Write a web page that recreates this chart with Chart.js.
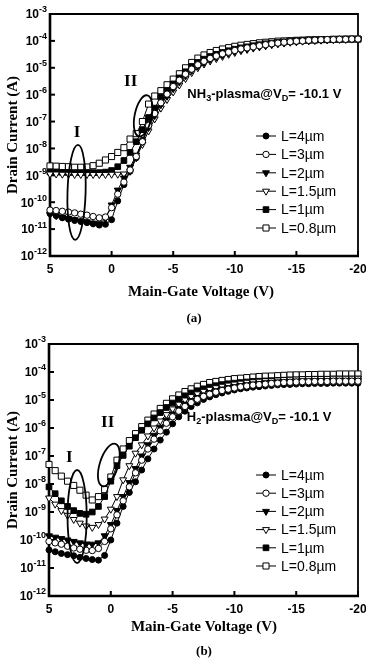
<!DOCTYPE html>
<html>
<head>
<meta charset="utf-8">
<script src="https://cdn.jsdelivr.net/npm/chart.js@4.4.1/dist/chart.umd.min.js"></script>
<style>
html, body { margin: 0; padding: 0; background: #fff; }
#wrap { position: relative; width: 366px; height: 659px; overflow: hidden; }
canvas { position: absolute; left: 0; }
#chartA { top: 0; }
#chartB { top: 330px; }
</style>
</head>
<body>
<div id="wrap">
  <canvas id="chartA" width="366" height="330"></canvas>
  <canvas id="chartB" width="366" height="329"></canvas>
</div>
<script>
// gate voltage sweep (V)
const voltages = [5, 4.5, 4, 3.5, 3, 2.5, 2, 1.5, 1, 0.5,
  0, -0.5, -1, -1.5, -2, -2.5, -3, -3.5, -4, -4.5,
  -5, -5.5, -6, -6.5, -7, -7.5, -8, -8.5, -9, -9.5,
  -10, -10.5, -11, -11.5, -12, -12.5, -13, -13.5, -14, -14.5,
  -15, -15.5, -16, -16.5, -17, -17.5, -18, -18.5, -19, -19.5, -20];

const xTicks = [5, 0, -5, -10, -15, -20];
const yTicks = [1e-12, 1e-11, 1e-10, 1e-9, 1e-8, 1e-7, 1e-6, 1e-5, 1e-4, 1e-3];
const yTickExponents = ['-12', '-11', '-10', '-9', '-8', '-7', '-6', '-5', '-4', '-3'];
const legendLabels = ['L=4\u00b5m', 'L=3\u00b5m', 'L=2\u00b5m', 'L=1.5\u00b5m', 'L=1\u00b5m', 'L=0.8\u00b5m'];

// (a) NH3 plasma, drain current (A)
const nh3_L4 = [3.8e-11, 3.16e-11, 2.63e-11, 2.34e-11, 2.09e-11, 1.91e-11, 1.74e-11, 1.58e-11, 1.41e-11, 1.51e-11,
  2.24e-11, 1.12e-10, 4.5e-10, 1.41e-9, 4.5e-9, 2.0e-8, 7.9e-8, 2.09e-7, 5.2e-7, 1.1e-6,
  2.09e-6, 3.6e-6, 6.0e-6, 9.1e-6, 1.32e-5, 1.78e-5, 2.29e-5, 2.82e-5, 3.4e-5, 3.9e-5,
  4.5e-5, 5.0e-5, 5.6e-5, 6.2e-5, 6.8e-5, 7.4e-5, 7.9e-5, 8.5e-5, 8.9e-5, 9.3e-5,
  9.8e-5, 1.0e-4, 1.05e-4, 1.07e-4, 1.1e-4, 1.12e-4, 1.12e-4, 1.15e-4, 1.15e-4, 1.17e-4, 1.17e-4];
const nh3_L3 = [5.1e-11, 4.9e-11, 4.6e-11, 4.3e-11, 4.0e-11, 3.6e-11, 3.3e-11, 2.95e-11, 2.63e-11, 2.82e-11,
  6.3e-11, 2.0e-10, 5.6e-10, 1.58e-9, 5.0e-9, 1.78e-8, 7.1e-8, 2.0e-7, 5.0e-7, 1.05e-6,
  2.0e-6, 3.47e-6, 5.8e-6, 8.9e-6, 1.29e-5, 1.74e-5, 2.24e-5, 2.75e-5, 3.3e-5, 3.8e-5,
  4.4e-5, 5.0e-5, 5.5e-5, 6.0e-5, 6.6e-5, 7.2e-5, 7.8e-5, 8.3e-5, 8.9e-5, 9.3e-5,
  9.8e-5, 1.0e-4, 1.05e-4, 1.07e-4, 1.1e-4, 1.12e-4, 1.12e-4, 1.15e-4, 1.15e-4, 1.17e-4, 1.17e-4];
const nh3_L2 = [3.55e-11, 3.16e-11, 2.82e-11, 2.51e-11, 2.24e-11, 2.0e-11, 1.86e-11, 1.66e-11, 1.58e-11, 2.51e-11,
  7.9e-11, 2.82e-10, 7.9e-10, 2.0e-9, 5.6e-9, 1.78e-8, 6.0e-8, 1.66e-7, 4.2e-7, 8.7e-7,
  1.66e-6, 2.95e-6, 5.0e-6, 7.9e-6, 1.17e-5, 1.58e-5, 2.04e-5, 2.51e-5, 3.0e-5, 3.55e-5,
  4.1e-5, 4.7e-5, 5.2e-5, 5.8e-5, 6.3e-5, 6.9e-5, 7.6e-5, 8.1e-5, 8.7e-5, 9.1e-5,
  9.5e-5, 1.0e-4, 1.02e-4, 1.05e-4, 1.07e-4, 1.1e-4, 1.12e-4, 1.15e-4, 1.15e-4, 1.17e-4, 1.17e-4];
const nh3_L15 = [1.12e-9, 1.12e-9, 1.1e-9, 1.1e-9, 1.07e-9, 1.07e-9, 1.07e-9, 1.07e-9, 1.07e-9, 1.07e-9,
  1.1e-9, 1.1e-9, 1.12e-9, 1.41e-9, 4.47e-9, 1.41e-8, 4.47e-8, 1.26e-7, 3.16e-7, 6.6e-7,
  1.26e-6, 2.29e-6, 3.98e-6, 6.6e-6, 1.0e-5, 1.38e-5, 1.78e-5, 2.19e-5, 2.63e-5, 3.16e-5,
  3.7e-5, 4.3e-5, 4.8e-5, 5.4e-5, 6.0e-5, 6.6e-5, 7.2e-5, 7.8e-5, 8.3e-5, 8.9e-5,
  9.3e-5, 9.8e-5, 1.02e-4, 1.05e-4, 1.07e-4, 1.1e-4, 1.12e-4, 1.15e-4, 1.15e-4, 1.17e-4, 1.17e-4];
const nh3_L1 = [1.32e-9, 1.32e-9, 1.29e-9, 1.26e-9, 1.26e-9, 1.26e-9, 1.26e-9, 1.26e-9, 1.26e-9, 1.32e-9,
  1.51e-9, 2.09e-9, 3.55e-9, 7.1e-9, 1.78e-8, 5.0e-8, 1.41e-7, 3.16e-7, 7.9e-7, 1.41e-6,
  2.51e-6, 4.2e-6, 7.1e-6, 1.12e-5, 1.58e-5, 2.09e-5, 2.63e-5, 3.16e-5, 3.7e-5, 4.3e-5,
  4.9e-5, 5.5e-5, 6.0e-5, 6.6e-5, 7.2e-5, 7.8e-5, 8.3e-5, 8.7e-5, 9.1e-5, 9.5e-5,
  1.0e-4, 1.02e-4, 1.05e-4, 1.07e-4, 1.1e-4, 1.12e-4, 1.12e-4, 1.15e-4, 1.15e-4, 1.17e-4, 1.17e-4];
const nh3_L08 = [2.24e-9, 2.19e-9, 2.14e-9, 2.09e-9, 2.0e-9, 2.0e-9, 2.04e-9, 2.29e-9, 2.82e-9, 3.72e-9,
  5.0e-9, 7.1e-9, 1.07e-8, 2.24e-8, 3.55e-8, 1.0e-7, 4.47e-7, 8.9e-7, 1.41e-6, 2.34e-6,
  3.8e-6, 6.0e-6, 1.0e-5, 1.58e-5, 2.29e-5, 3.0e-5, 3.7e-5, 4.4e-5, 5.0e-5, 5.6e-5,
  6.3e-5, 6.9e-5, 7.4e-5, 7.9e-5, 8.5e-5, 8.9e-5, 9.3e-5, 9.8e-5, 1.0e-4, 1.02e-4,
  1.05e-4, 1.07e-4, 1.1e-4, 1.1e-4, 1.12e-4, 1.12e-4, 1.15e-4, 1.15e-4, 1.17e-4, 1.17e-4, 1.17e-4];

// (b) H2 plasma, drain current (A)
const h2_L4 = [4.4e-11, 3.8e-11, 3.3e-11, 3.0e-11, 2.75e-11, 2.4e-11, 2.19e-11, 2.0e-11, 1.91e-11, 2.82e-11,
  1.0e-10, 4.0e-10, 1.58e-9, 5.0e-9, 1.2e-8, 3.16e-8, 7.9e-8, 1.78e-7, 3.7e-7, 7.1e-7,
  1.41e-6, 2.51e-6, 4.0e-6, 5.8e-6, 7.9e-6, 1.05e-5, 1.29e-5, 1.55e-5, 1.78e-5, 2.04e-5,
  2.29e-5, 2.51e-5, 2.69e-5, 2.88e-5, 3.0e-5, 3.16e-5, 3.3e-5, 3.47e-5, 3.55e-5, 3.6e-5,
  3.7e-5, 3.8e-5, 3.8e-5, 3.9e-5, 3.9e-5, 3.9e-5, 4.0e-5, 4.0e-5, 4.0e-5, 4.0e-5, 4.0e-5];
const h2_L3 = [8.9e-11, 7.9e-11, 7.1e-11, 6.0e-11, 5.2e-11, 4.7e-11, 4.3e-11, 4.2e-11, 5.0e-11, 8.9e-11,
  2.51e-10, 7.9e-10, 2.51e-9, 7.9e-9, 2.51e-8, 7.1e-8, 1.78e-7, 4.0e-7, 7.9e-7, 1.48e-6,
  2.51e-6, 4.0e-6, 5.9e-6, 8.1e-6, 1.07e-5, 1.35e-5, 1.62e-5, 1.91e-5, 2.19e-5, 2.45e-5,
  2.69e-5, 2.95e-5, 3.16e-5, 3.4e-5, 3.55e-5, 3.7e-5, 3.9e-5, 4.0e-5, 4.2e-5, 4.3e-5,
  4.4e-5, 4.5e-5, 4.5e-5, 4.6e-5, 4.6e-5, 4.6e-5, 4.7e-5, 4.7e-5, 4.7e-5, 4.7e-5, 4.7e-5];
const h2_L2 = [1.41e-10, 1.26e-10, 1.12e-10, 1.0e-10, 8.9e-11, 7.9e-11, 7.2e-11, 7.1e-11, 7.9e-11, 1.41e-10,
  3.55e-10, 1.12e-9, 3.55e-9, 1.12e-8, 3.55e-8, 1.0e-7, 2.51e-7, 5.5e-7, 1.07e-6, 1.91e-6,
  3.16e-6, 4.9e-6, 7.1e-6, 9.5e-6, 1.23e-5, 1.51e-5, 1.82e-5, 2.14e-5, 2.45e-5, 2.75e-5,
  3.0e-5, 3.24e-5, 3.47e-5, 3.7e-5, 3.9e-5, 4.1e-5, 4.3e-5, 4.4e-5, 4.5e-5, 4.6e-5,
  4.7e-5, 4.8e-5, 4.8e-5, 4.9e-5, 4.9e-5, 4.9e-5, 5.0e-5, 5.0e-5, 5.0e-5, 5.0e-5, 5.0e-5];
const h2_L15 = [3.16e-9, 1.91e-9, 1.12e-9, 7.6e-10, 5.4e-10, 4.0e-10, 3.16e-10, 2.82e-10, 3.55e-10, 5.6e-10,
  1.26e-9, 3.55e-9, 1.41e-8, 4.5e-8, 1.26e-7, 2.51e-7, 5.2e-7, 1.0e-6, 1.78e-6, 3.0e-6,
  4.8e-6, 7.1e-6, 1.0e-5, 1.32e-5, 1.66e-5, 2.04e-5, 2.4e-5, 2.75e-5, 3.1e-5, 3.4e-5,
  3.7e-5, 4.0e-5, 4.3e-5, 4.5e-5, 4.7e-5, 4.9e-5, 5.0e-5, 5.2e-5, 5.4e-5, 5.5e-5,
  5.6e-5, 5.8e-5, 5.8e-5, 5.9e-5, 5.9e-5, 5.9e-5, 6.0e-5, 6.0e-5, 6.0e-5, 6.0e-5, 6.0e-5];
const h2_L1 = [7.9e-9, 4.5e-9, 2.51e-9, 1.58e-9, 1.12e-9, 8.9e-10, 8.3e-10, 1.0e-9, 1.58e-9, 3.55e-9,
  1.26e-8, 4.5e-8, 1.05e-7, 2.24e-7, 4.5e-7, 8.3e-7, 1.41e-6, 2.29e-6, 3.55e-6, 5.4e-6,
  7.8e-6, 1.07e-5, 1.41e-5, 1.78e-5, 2.14e-5, 2.51e-5, 2.88e-5, 3.24e-5, 3.55e-5, 3.8e-5,
  4.0e-5, 4.2e-5, 4.4e-5, 4.6e-5, 4.7e-5, 4.8e-5, 4.9e-5, 5.0e-5, 5.1e-5, 5.2e-5,
  5.2e-5, 5.4e-5, 5.4e-5, 5.5e-5, 5.5e-5, 5.5e-5, 5.6e-5, 5.6e-5, 5.6e-5, 5.6e-5, 5.6e-5];
const h2_L08 = [5.0e-8, 3.0e-8, 1.91e-8, 1.26e-8, 8.9e-9, 6.0e-9, 4.0e-9, 2.69e-9, 3.55e-9, 6.3e-9,
  1.78e-8, 7.1e-8, 1.78e-7, 3.55e-7, 6.3e-7, 1.12e-6, 1.91e-6, 3.16e-6, 5.0e-6, 7.6e-6,
  1.1e-5, 1.51e-5, 2.0e-5, 2.51e-5, 3.1e-5, 3.6e-5, 4.2e-5, 4.6e-5, 5.0e-5, 5.4e-5,
  5.8e-5, 6.0e-5, 6.3e-5, 6.6e-5, 6.9e-5, 7.1e-5, 7.2e-5, 7.4e-5, 7.6e-5, 7.8e-5,
  7.9e-5, 7.9e-5, 8.1e-5, 8.1e-5, 8.3e-5, 8.3e-5, 8.3e-5, 8.5e-5, 8.5e-5, 8.5e-5, 8.5e-5];

// marker per channel length, same order as legendLabels
const markerStyles = [
  { style: 'circle', fill: '#000', radius: 3, rotation: 0 },
  { style: 'circle', fill: '#fff', radius: 3.2, rotation: 0 },
  { style: 'triangle', fill: '#000', radius: 4, rotation: 180 },
  { style: 'triangle', fill: '#fff', radius: 4, rotation: 180 },
  { style: 'rect', fill: '#000', radius: 4, rotation: 0 },
  { style: 'rect', fill: '#fff', radius: 4.3, rotation: 0 }
];

const SANS = '"Liberation Sans", Arial, sans-serif';
const SERIF = '"Liberation Serif", "Times New Roman", serif';

function drawMarker(ctx, m, x, y) {
  ctx.save();
  ctx.fillStyle = m.fill;
  ctx.strokeStyle = '#000';
  ctx.lineWidth = 1;
  ctx.beginPath();
  if (m.style === 'circle') {
    ctx.arc(x, y, m.radius, 0, Math.PI * 2);
  } else if (m.style === 'rect') {
    const s = m.radius * Math.SQRT1_2;
    ctx.rect(x - s, y - s, 2 * s, 2 * s);
  } else {
    const r = m.radius;
    ctx.moveTo(x - r * 0.866, y - r * 0.5);
    ctx.lineTo(x + r * 0.866, y - r * 0.5);
    ctx.lineTo(x, y + r);
    ctx.closePath();
  }
  ctx.fill();
  ctx.stroke();
  ctx.restore();
}

// text with sub-scripted pieces
function drawRich(ctx, parts, x, y, size) {
  let cx = x;
  parts.forEach((p) => {
    ctx.font = p.sub ? `bold ${size * 0.7}px ${SANS}` : `bold ${size}px ${SANS}`;
    ctx.fillText(p.t, cx, p.sub ? y + size * 0.3 : y);
    cx += ctx.measureText(p.t).width;
  });
}

const decorPlugin = {
  id: 'decor',
  beforeDatasetsDraw(chart, args, o) {
    const { ctx, chartArea: a, scales: { x, y } } = chart;
    ctx.save();
    ctx.strokeStyle = '#000';
    // frame
    ctx.lineWidth = 1.8;
    ctx.beginPath();
    ctx.moveTo(a.left, a.top); ctx.lineTo(a.right, a.top); ctx.lineTo(a.right, a.bottom);
    ctx.stroke();
    ctx.lineWidth = 2.6;
    ctx.beginPath();
    ctx.moveTo(a.left, a.top - 1); ctx.lineTo(a.left, a.bottom); ctx.lineTo(a.right + 1, a.bottom);
    ctx.stroke();
    // inward ticks
    ctx.lineWidth = 2;
    yTicks.forEach((v) => {
      const py = y.getPixelForValue(v);
      ctx.beginPath(); ctx.moveTo(a.left, py); ctx.lineTo(a.left + 5, py); ctx.stroke();
    });
    xTicks.forEach((v) => {
      const px = x.getPixelForValue(v);
      ctx.beginPath(); ctx.moveTo(px, a.bottom); ctx.lineTo(px, a.bottom - 5); ctx.stroke();
    });
    ctx.restore();
  },
  afterDraw(chart, args, o) {
    const { ctx, chartArea: a, scales: { x, y } } = chart;
    ctx.save();
    ctx.fillStyle = '#000';
    ctx.strokeStyle = '#000';

    // y tick labels 10^n
    yTicks.forEach((v, i) => {
      const py = y.getPixelForValue(v);
      ctx.font = `bold 9px ${SANS}`;
      const ew = ctx.measureText(yTickExponents[i]).width;
      ctx.textAlign = 'left';
      ctx.textBaseline = 'middle';
      ctx.fillText(yTickExponents[i], a.left - 3 - ew, py - 4);
      ctx.font = `bold 12px ${SANS}`;
      ctx.textAlign = 'right';
      ctx.fillText('10', a.left - 3 - ew, py + 1);
    });
    // x tick labels
    ctx.font = `bold 12px ${SANS}`;
    ctx.textAlign = 'center';
    ctx.textBaseline = 'middle';
    xTicks.forEach((v) => {
      ctx.fillText(String(v), x.getPixelForValue(v), a.bottom + o.tickDy);
    });
    // axis titles
    ctx.font = `bold 15px ${SERIF}`;
    ctx.fillText('Main-Gate Voltage (V)', o.xTitleX, a.bottom + o.xTitleDy);
    ctx.save();
    ctx.translate(13, (a.top + a.bottom) / 2);
    ctx.rotate(-Math.PI / 2);
    ctx.fillText('Drain Current (A)', 0, 0);
    ctx.restore();
    // panel tag
    ctx.font = `bold 13px ${SERIF}`;
    ctx.fillText(o.tag, o.tagX, a.bottom + o.tagDy);

    // roman numerals
    ctx.font = `bold 17px ${SERIF}`;
    o.romans.forEach((r) => {
      ctx.fillText(r.text, x.getPixelForValue(r.v), y.getPixelForValue(r.i));
    });
    // ellipses
    ctx.lineWidth = 1.8;
    o.ellipses.forEach((e) => {
      const x1 = x.getPixelForValue(e.v1), x2 = x.getPixelForValue(e.v2);
      const y1 = y.getPixelForValue(e.i1), y2 = y.getPixelForValue(e.i2);
      ctx.beginPath();
      ctx.ellipse((x1 + x2) / 2, (y1 + y2) / 2, Math.abs(x2 - x1) / 2, Math.abs(y2 - y1) / 2, e.rot, 0, Math.PI * 2);
      ctx.stroke();
    });
    // condition note
    ctx.textAlign = 'left';
    drawRich(ctx, o.note.parts, x.getPixelForValue(o.note.v), y.getPixelForValue(o.note.i), 13);

    // legend
    const lx = a.right + o.legend.dx;
    chart.data.datasets.forEach((ds, k) => {
      const ly = a.top + o.legend.dy + k * o.legend.step;
      ctx.lineWidth = 1;
      ctx.beginPath(); ctx.moveTo(lx, ly); ctx.lineTo(lx + 20, ly); ctx.stroke();
      drawMarker(ctx, markerStyles[k], lx + 10, ly);
      ctx.fillStyle = '#000';
      ctx.font = `14px ${SANS}`;
      ctx.textAlign = 'left';
      ctx.textBaseline = 'middle';
      ctx.fillText(ds.label, lx + 25, ly + 1);
    });
    ctx.restore();
  }
};

function makeDatasets(series) {
  return series.map((vals, k) => ({
    label: legendLabels[k],
    data: voltages.map((v, i) => ({ x: v, y: vals[i] })),
    borderColor: '#000',
    borderWidth: 1,
    tension: 0,
    pointStyle: markerStyles[k].style,
    pointRadius: markerStyles[k].radius,
    pointRotation: markerStyles[k].rotation,
    pointBackgroundColor: markerStyles[k].fill,
    pointBorderColor: '#000',
    pointBorderWidth: 1,
    clip: false,
    order: k === 1 ? 0 : k + 1
  }));
}

function makeChart(id, series, padding, decor) {
  return new Chart(document.getElementById(id), {
    type: 'line',
    data: { datasets: makeDatasets(series) },
    options: {
      responsive: false,
      animation: false,
      devicePixelRatio: 1,
      layout: { padding: padding },
      plugins: { legend: { display: false }, tooltip: { enabled: false }, decor: decor },
      scales: {
        x: { type: 'linear', reverse: true, min: -20, max: 5, display: false },
        y: { type: 'logarithmic', min: 1e-12, max: 1e-3, display: false }
      }
    },
    plugins: [decorPlugin]
  });
}

makeChart('chartA', [nh3_L4, nh3_L3, nh3_L2, nh3_L15, nh3_L1, nh3_L08],
  { left: 50, right: 8, top: 14, bottom: 74 },
  {
    tag: '(a)', tagX: 194, tagDy: 63, tickDy: 14, xTitleX: 201, xTitleDy: 36,
    romans: [{ text: 'I', v: 2.8, i: 3.8e-8 }, { text: 'II', v: -1.55, i: 2.95e-6 }],
    ellipses: [
      { v1: 3.58, v2: 2.11, i1: 1.35e-8, i2: 4e-12, rot: 0.03 },
      { v1: -1.87, v2: -3.25, i1: 9.8e-7, i2: 2.7e-8, rot: 0.2 }
    ],
    note: { v: -6.15, i: 9.8e-7, parts: [{ t: 'NH' }, { t: '3', sub: true }, { t: '-plasma@V' }, { t: 'D', sub: true }, { t: '= -10.1 V' }] },
    legend: { dx: -102, dy: 122, step: 18.4 }
  });

makeChart('chartB', [h2_L4, h2_L3, h2_L2, h2_L15, h2_L1, h2_L08],
  { left: 49, right: 8, top: 14, bottom: 63 },
  {
    tag: '(b)', tagX: 204, tagDy: 56, tickDy: 14, xTitleX: 204, xTitleDy: 31,
    romans: [{ text: 'I', v: 3.35, i: 9e-8 }, { text: 'II', v: 0.25, i: 1.5e-6 }],
    ellipses: [
      { v1: 3.5, v2: 1.95, i1: 3.16e-8, i2: 1.5e-11, rot: 0 },
      { v1: 0.9, v2: -0.58, i1: 2.95e-7, i2: 7.8e-9, rot: 0.3 }
    ],
    note: { v: -6.15, i: 2.45e-6, parts: [{ t: 'H' }, { t: '2', sub: true }, { t: '-plasma@V' }, { t: 'D', sub: true }, { t: '= -10.1 V' }] },
    legend: { dx: -102, dy: 131, step: 18.2 }
  });
</script>
</body>
</html>
